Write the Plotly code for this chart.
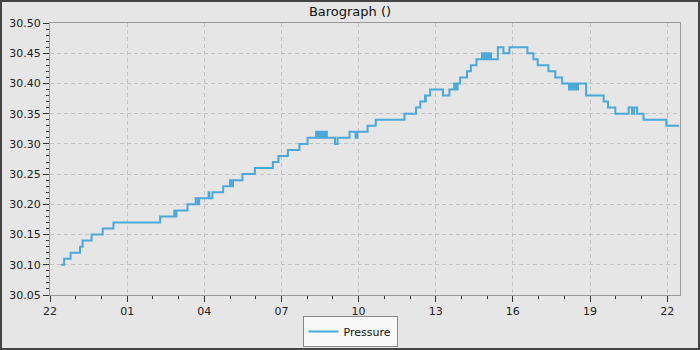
import plotly.graph_objects as go
from datetime import datetime, timedelta

# Step readings (local time HH:MM, pressure inHg); day rolls over after midnight
times = ["22:26", "22:33", "22:48", "23:10", "23:16", "23:37", "00:03", "00:28",
         "02:17", "02:50", "02:52", "02:55", "03:21", "03:40", "03:45", "03:48",
         "04:10", "04:12", "04:19", "04:44", "05:00", "05:03", "05:07", "05:29",
         "05:58", "06:40", "06:53", "07:15", "07:42", "08:01",
         "08:21", "08:24", "08:26", "08:29", "08:31", "08:35", "08:38", "08:41", "08:43", "08:46",
         "09:05", "09:11", "09:39", "09:53", "09:57", "10:21", "10:40", "11:47",
         "12:14", "12:24", "12:35", "12:36", "12:37", "12:47", "13:17", "13:32",
         "13:43", "13:45", "13:47", "13:49", "13:51", "13:57", "14:13", "14:22", "14:35",
         "14:48", "14:51", "14:54", "14:57", "15:00", "15:03", "15:06", "15:09",
         "15:25", "15:38", "15:52", "16:34", "16:48", "16:58", "17:23", "17:39", "17:55",
         "18:11", "18:14", "18:16", "18:19", "18:22", "18:26", "18:29", "18:32",
         "18:51", "19:32", "19:42", "19:59", "20:30", "20:38", "20:43", "20:50",
         "21:05", "21:58", "22:28"]
pressure = [30.10, 30.11, 30.12, 30.13, 30.14, 30.15, 30.16, 30.17,
            30.18, 30.19, 30.18, 30.19, 30.20, 30.21, 30.20, 30.21,
            30.22, 30.21, 30.22, 30.23, 30.24, 30.23, 30.24, 30.25,
            30.26, 30.27, 30.28, 30.29, 30.30, 30.31,
            30.32, 30.31, 30.32, 30.31, 30.32, 30.31, 30.32, 30.31, 30.32, 30.31,
            30.30, 30.31, 30.32, 30.31, 30.32, 30.33, 30.34, 30.35,
            30.36, 30.37, 30.38, 30.37, 30.38, 30.39, 30.38, 30.39,
            30.40, 30.39, 30.40, 30.39, 30.40, 30.41, 30.42, 30.43, 30.44,
            30.45, 30.44, 30.45, 30.44, 30.45, 30.44, 30.45, 30.44,
            30.46, 30.45, 30.46, 30.45, 30.44, 30.43, 30.42, 30.41, 30.40,
            30.39, 30.40, 30.39, 30.40, 30.39, 30.40, 30.39, 30.40,
            30.38, 30.37, 30.36, 30.35, 30.36, 30.35, 30.36, 30.35,
            30.34, 30.33, 30.33]

start = datetime(2024, 5, 1, 22, 0)
xs = []
day = start.date()
prev = None
for t in times:
    hh, mm = map(int, t.split(":"))
    cur = datetime(day.year, day.month, day.day, hh, mm)
    if prev is not None and cur < prev:
        day = day + timedelta(days=1)
        cur = datetime(day.year, day.month, day.day, hh, mm)
    xs.append(cur)
    prev = cur

x_end = start + timedelta(hours=24, minutes=30)

fig = go.Figure()
fig.add_trace(go.Scatter(x=xs, y=pressure, mode="lines", name="Pressure",
                         line=dict(color="#4aa8da", width=2, shape="hv")))

W, H = 700, 350
ml, mr, mt, mb = 50, 20, 23, 55
pw, ph = W - ml - mr, H - mt - mb

axis_font = dict(family="DejaVu Sans", size=11, color="#222222")
fig.update_layout(
    width=W, height=H,
    margin=dict(l=ml, r=mr, t=mt, b=mb, autoexpand=False),
    paper_bgcolor="#e6e6e6", plot_bgcolor="#e6e6e6",
    title=dict(text="Barograph ()", x=0.5, xref="container", xanchor="center",
               y=1 - 11 / H, yref="container", yanchor="middle",
               font=dict(family="DejaVu Sans", size=13, color="#111111")),
    showlegend=True,
    legend=dict(orientation="v", xref="container", yref="container",
                x=0.5, xanchor="center", y=3 / H, yanchor="bottom",
                bgcolor="#f8f8f8", bordercolor="#888888", borderwidth=1,
                font=dict(family="DejaVu Sans", size=11, color="#111111"),
                itemwidth=30, tracegroupgap=0),
    xaxis=dict(type="date", range=[start, x_end], tickformat="%H",
               tick0=start, dtick=3 * 3600 * 1000,
               ticks="outside", ticklen=6, tickcolor="#333333",
               showline=True, linecolor="#999999", linewidth=1, mirror=True,
               showgrid=True, gridcolor="#c2c2c2", griddash="4px,3px", gridwidth=1,
               zeroline=False, tickfont=axis_font,
               minor=dict(dtick=3600 * 1000, ticks="outside", ticklen=3,
                          tickcolor="#333333", showgrid=False)),
    yaxis=dict(range=[30.05, 30.50], tick0=30.05, dtick=0.05, tickformat=".2f",
               ticks="outside", ticklen=6, tickcolor="#333333",
               showline=True, linecolor="#999999", linewidth=1, mirror=True,
               showgrid=True, gridcolor="#c2c2c2", griddash="4px,3px", gridwidth=1,
               zeroline=False, tickfont=axis_font,
               minor=dict(dtick=0.01, ticks="outside", ticklen=3,
                          tickcolor="#333333", showgrid=False)),
    shapes=[dict(type="rect", xref="paper", yref="paper",
                 x0=(1 - ml) / pw, x1=(W - 1 - ml) / pw,
                 y0=-(mb - 1) / ph, y1=(ph + mt - 1) / ph,
                 line=dict(color="#444444", width=2), layer="above")],
)

fig.write_html("out.html")
